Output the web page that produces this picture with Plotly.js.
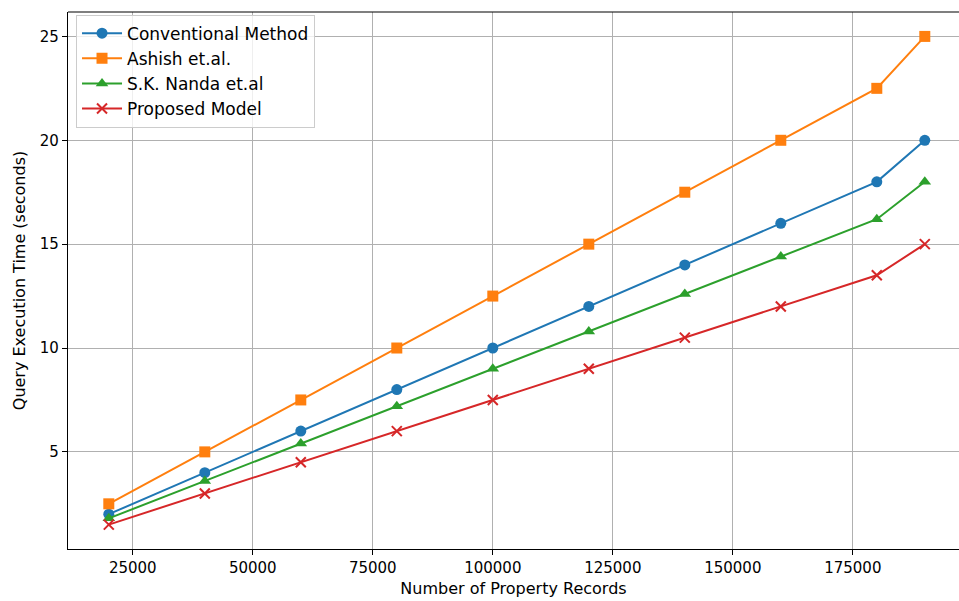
<!DOCTYPE html>
<html><head><meta charset="utf-8">
<script src="https://cdn.plot.ly/plotly-3.0.1.min.js"></script>
<style>html,body{margin:0;padding:0;background:#fff}#c{width:959px;height:601px}</style>
</head><body><div id="c"></div>
<script>
const records = [20000, 40000, 60000, 80000, 100000, 120000, 140000, 160000, 180000, 190000];
const conventional = [2, 4, 6, 8, 10, 12, 14, 16, 18, 20];
const ashish = [2.5, 5, 7.5, 10, 12.5, 15, 17.5, 20, 22.5, 25];
const nanda = [1.8, 3.6, 5.4, 7.2, 9, 10.8, 12.6, 14.4, 16.2, 18];
const proposed = [1.5, 3, 4.5, 6, 7.5, 9, 10.5, 12, 13.5, 15];
const names = ['Conventional Method', 'Ashish et.al.', 'S.K. Nanda et.al', 'Proposed Model'];
const xTicks = [25000, 50000, 75000, 100000, 125000, 150000, 175000];
const yTicks = [5, 10, 15, 20, 25];

const colors = ['#1f77b4', '#ff7f0e', '#2ca02c', '#d62728'];
const symbols = ['circle', 'square', 'triangle-up', 'x-thin'];
const series = [conventional, ashish, nanda, proposed];
const traces = series.map((s, i) => ({
  x: records, y: s, name: names[i], type: 'scatter', mode: 'lines+markers',
  line: {color: colors[i], width: 2},
  marker: {symbol: symbols[i], size: i === 3 ? 10 : 11, color: colors[i],
           line: {color: colors[i], width: i === 3 ? 2 : 0}}
}));

const tickFont = {family: 'DejaVu Sans', size: 15, color: '#000'};
const titleFont = {family: 'DejaVu Sans', size: 16, color: '#000'};
const legendFont = {family: 'DejaVu Sans', size: 17, color: '#000'};
const layout = {
  width: 959, height: 601,
  margin: {l: 68, r: 0, t: 12, b: 52},
  paper_bgcolor: '#fff', plot_bgcolor: '#fff',
  font: tickFont,
  showlegend: true,
  legend: {x: 0.009, y: 0.995, xanchor: 'left', yanchor: 'top',
           bgcolor: 'rgba(255,255,255,0.8)', bordercolor: '#cccccc', borderwidth: 1,
           font: legendFont, tracegroupgap: 0, itemwidth: 40},
  xaxis: {range: [11500, 197125], tickvals: xTicks, ticktext: xTicks.map(String),
          showgrid: true, gridcolor: '#b0b0b0', gridwidth: 1,
          showline: true, linecolor: '#000', linewidth: 1.2, zeroline: false,
          ticks: 'outside', ticklen: 5, tickcolor: '#000', tickfont: tickFont,
          title: {text: 'Number of Property Records', font: titleFont, standoff: 6}},
  yaxis: {range: [0.325, 26.175], tickvals: yTicks, ticktext: yTicks.map(String),
          showgrid: true, gridcolor: '#b0b0b0', gridwidth: 1,
          showline: true, linecolor: '#000', linewidth: 1.2, zeroline: false,
          ticks: 'outside', ticklen: 5, tickcolor: '#000', tickfont: tickFont,
          title: {text: 'Query Execution Time (seconds)', font: titleFont, standoff: 10}},
  shapes: [{type: 'line', xref: 'paper', yref: 'paper', x0: 0, x1: 1, y0: 1, y1: 1,
            line: {color: '#000', width: 1.2}}]
};
Plotly.newPlot('c', traces, layout, {displayModeBar: false, staticPlot: true});
</script></body></html>
